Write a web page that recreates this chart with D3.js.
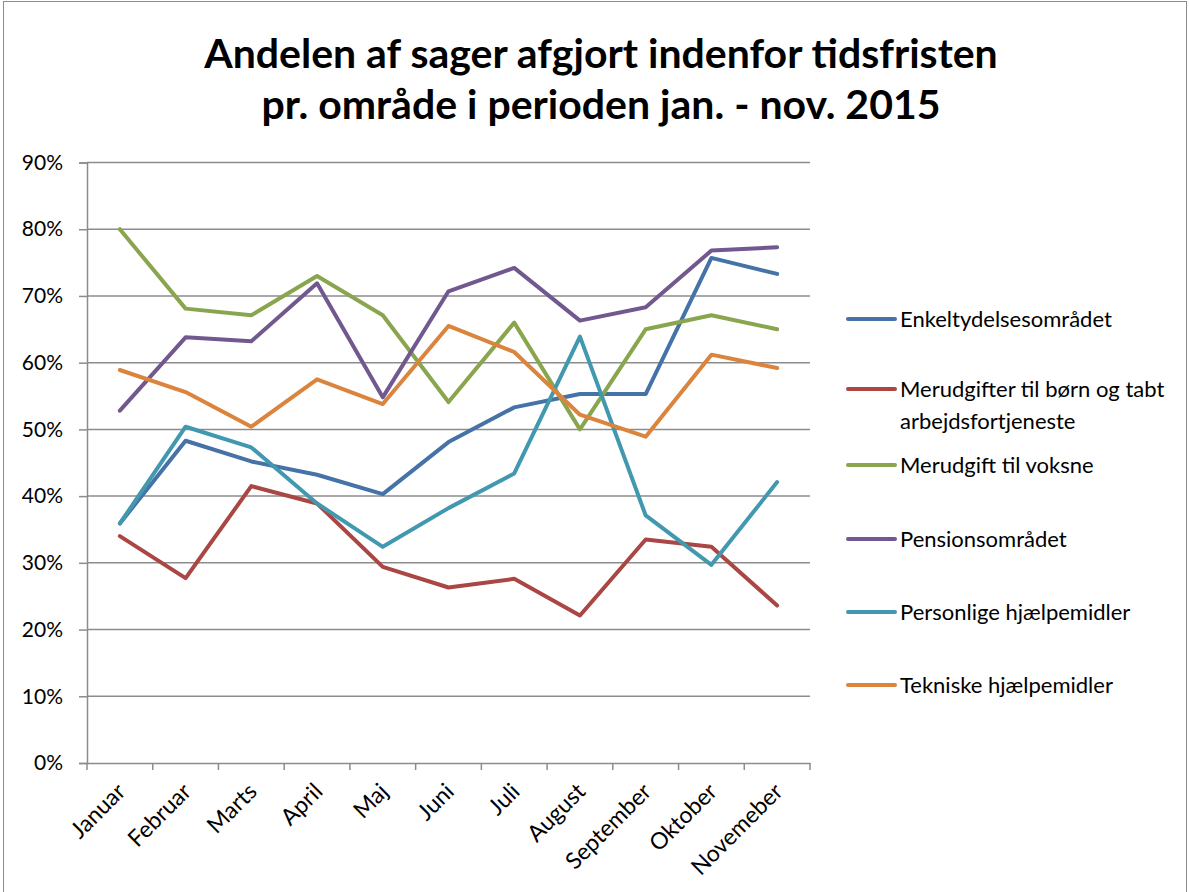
<!DOCTYPE html>
<html><head><meta charset="utf-8">
<script src="https://cdn.jsdelivr.net/npm/d3@7"></script>
<style>body{margin:0;background:#fff}svg{display:block;font-family:Lato,"Open Sans",sans-serif}</style>
</head><body>
<svg id="c" width="1189" height="892"></svg>
<script>
const categories = ["Januar","Februar","Marts","April","Maj","Juni","Juli","August","September","Oktober","Novemeber"];
const seriesNames = ["Enkeltydelsesområdet","Merudgifter til børn og tabt arbejdsfortjeneste","Merudgift til voksne","Pensionsområdet","Personlige hjælpemidler","Tekniske hjælpemidler"];
const enkelt     = [35.9,48.3,45.2,43.2,40.3,48.1,53.3,55.3,55.3,75.7,73.3];
const merudBorn  = [34.0,27.7,41.5,38.9,29.4,26.3,27.6,22.1,33.5,32.4,23.6];
const merudVoks  = [80.0,68.1,67.1,73.0,67.1,54.1,66.0,50.0,65.0,67.1,65.0];
const pension    = [52.8,63.8,63.2,71.9,54.8,70.7,74.2,66.3,68.3,76.8,77.3];
const personlige = [35.9,50.4,47.3,38.9,32.4,38.2,43.4,63.9,37.1,29.7,42.1];
const tekniske   = [58.9,55.6,50.4,57.5,53.8,65.5,61.6,52.2,48.9,61.2,59.2];
const yTicks = [0,10,20,30,40,50,60,70,80,90];
const titleLines = ["Andelen af sager afgjort indenfor tidsfristen","pr. område i perioden jan. - nov. 2015"];

const seriesValues = [enkelt, merudBorn, merudVoks, pension, personlige, tekniske];
const colors = ["#4572A7","#AA4643","#89A54E","#71588F","#4198AF","#DB843D"];
const FONT = "Lato,'Open Sans',sans-serif";

const svg = d3.select("#c");
svg.append("rect").attr("x",3.5).attr("y",1.5).attr("width",1183).attr("height",900)
  .attr("fill","#fff").attr("stroke","#8c8c8c").attr("stroke-width",1);

const L = 87, R = 810, T = 162.5, B = 763;
const x = d3.scaleBand().domain(categories).range([L,R]);
const y = d3.scaleLinear().domain([0,90]).range([B,T]);

// title
const tt = svg.append("g");
titleLines.forEach((t,i)=>{
  tt.append("text").attr("x",601).attr("y",68+i*51).attr("text-anchor","middle")
    .style("font-family",FONT).style("font-size","41px").attr("font-weight","bold").attr("fill","#000").text(t);
});

// gridlines
svg.append("g").selectAll("line").data(yTicks.filter(d=>d>0)).join("line")
  .attr("x1",L).attr("x2",R).attr("y1",d=>y(d)).attr("y2",d=>y(d))
  .attr("stroke","#8c8c8c").attr("stroke-width",1.5);

// y axis
const ya = svg.append("g").attr("transform",`translate(${L},0)`)
  .call(d3.axisLeft(y).tickValues(yTicks).tickFormat(d=>d+"%").tickSize(8).tickPadding(16));
ya.select(".domain").attr("stroke","#8c8c8c").attr("stroke-width",1.5);
ya.selectAll(".tick line").attr("stroke","#8c8c8c").attr("stroke-width",1.5);
ya.selectAll("text").attr("fill","#000").style("font-family",FONT).style("font-size","21px");

// x axis
const xa = svg.append("g").attr("transform",`translate(0,${B})`)
  .call(d3.axisBottom(x).tickSize(0).tickFormat(""));
xa.select(".domain").attr("stroke","#8c8c8c").attr("stroke-width",1.5);
const bounds = categories.map(c=>x(c)).concat([R]);
xa.append("g").selectAll("line").data(bounds).join("line")
  .attr("x1",d=>d).attr("x2",d=>d).attr("y1",0).attr("y2",7)
  .attr("stroke","#8c8c8c").attr("stroke-width",1.5);
xa.append("g").selectAll("text").data(categories).join("text")
  .attr("transform",d=>`translate(${x(d)+x.bandwidth()/2+7},${30}) rotate(-45)`)
  .attr("text-anchor","end").attr("fill","#000")
  .style("font-family",FONT).style("font-size","23px").text(d=>d);

// lines
const line = d3.line().x((d,i)=>x(categories[i])+x.bandwidth()/2).y(d=>y(d));
svg.append("g").selectAll("path").data(seriesValues).join("path")
  .attr("d",d=>line(d)).attr("fill","none").attr("stroke",(d,i)=>colors[i])
  .attr("stroke-width",4).attr("stroke-linejoin","round").attr("stroke-linecap","round");

// legend
const legY = [319,389,465,539,612,685];
const lg = svg.append("g");
seriesNames.forEach((n,i)=>{
  lg.append("line").attr("x1",848).attr("x2",895).attr("y1",legY[i]).attr("y2",legY[i])
    .attr("stroke",colors[i]).attr("stroke-width",4).attr("stroke-linecap","round");
  const t = lg.append("text").attr("x",900).attr("y",legY[i]+8).attr("fill","#000")
    .style("font-family",FONT).style("font-size","22px");
  if (i===1) {
    t.append("tspan").attr("x",900).text("Merudgifter til børn og tabt");
    t.append("tspan").attr("x",900).attr("dy",32).text("arbejdsfortjeneste");
  } else t.text(n);
});
</script>
</body></html>
